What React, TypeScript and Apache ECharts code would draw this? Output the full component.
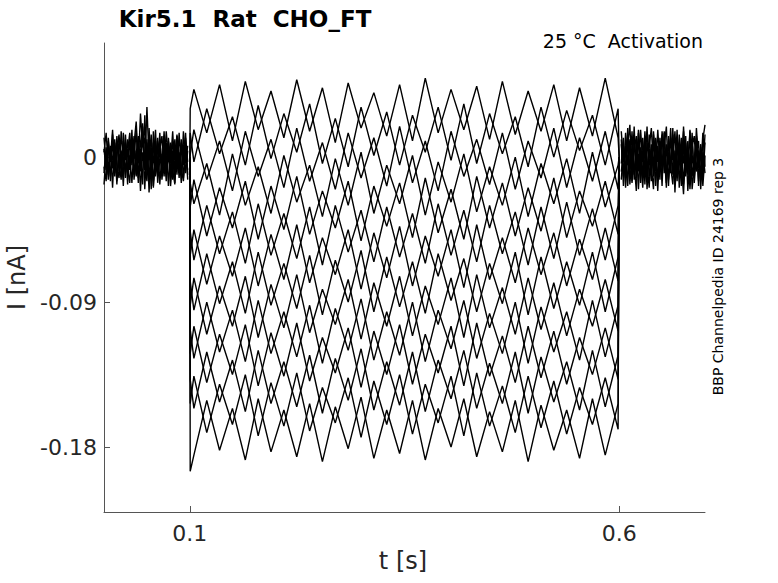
import React, { useEffect, useRef } from "react";
import * as echarts from "echarts";

// ---- data (currents in pA, times in s) ----
const preTimes = [0, 0.0025, 0.005, 0.0075, 0.01, 0.0125, 0.015, 0.0175, 0.02, 0.0225, 0.025, 0.0275, 0.03, 0.0325, 0.035, 0.0375, 0.04, 0.0425, 0.045, 0.0475, 0.05, 0.0525, 0.055, 0.0575, 0.06, 0.0625, 0.065, 0.0675, 0.07, 0.0725, 0.075, 0.0775, 0.08, 0.0825, 0.085, 0.0875, 0.09, 0.0925, 0.095, 0.0975];
const postTimes = [0.6025, 0.605, 0.6075, 0.61, 0.6125, 0.615, 0.6175, 0.62, 0.6225, 0.625, 0.6275, 0.63, 0.6325, 0.635, 0.6375, 0.64, 0.6425, 0.645, 0.6475, 0.65, 0.6525, 0.655, 0.6575, 0.66, 0.6625, 0.665, 0.6675, 0.67, 0.6725, 0.675, 0.6775, 0.68, 0.6825, 0.685, 0.6875, 0.69, 0.6925, 0.695, 0.6975, 0.7];

const preNoise1 = [5, -8, 12, -3, 9, -12, 4, 14, -6, 10, -9, 3, 15, -5, 8, 22, -4, 27, 6, 12, -10, 18, -7, 9, -12, 5, 11, -8, 13, -4, 7, -11, 10, -2, 14, -9, 6, -5, 12, -3];
const preNoise2 = [-10, 6, -14, 3, -7, 11, -15, 2, -9, 7, -13, 5, -6, 12, -11, 4, -16, 9, 19, -8, 31, -2, 14, -18, 3, -9, 8, -14, 1, -7, 10, -12, 4, -16, 8, -6, 11, -13, 2, -8];
const preNoise3 = [12, -4, 8, -15, 14, -2, 10, -9, 16, -6, 9, -17, 11, -3, 13, -11, 7, -5, 16, -20, 9, -14, 6, -19, 10, -6, 15, -10, 6, -15, 12, -4, 16, -9, 5, -13, 9, -1, 15, -11];
const preNoise4 = [-17, 2, -11, 7, -19, 9, -5, -13, 4, -18, 8, -10, 1, -16, 6, -12, 10, -21, 3, -8, 11, -22, 4, -15, -3, 12, -17, 2, -12, 9, -18, 5, -14, 11, -7, 3, -16, 8, -10, 4];
const preNoise5 = [3, 15, -6, -1, 17, -10, 13, -4, -14, 15, -2, 11, -8, 17, -14, 2, 13, -9, 21, -3, -15, 8, -20, 16, -5, -11, 4, 13, -6, 16, -1, 9, -8, -17, 13, 1, -11, 16, -4, 7];
const preNoise6 = [-6, -15, 10, -12, 0, 6, -17, 12, -3, -11, 14, -7, -16, 9, -1, 17, -13, 5, -17, 26, -6, 12, -11, -3, 17, -16, -1, -5, 16, -12, 3, -18, -2, 6, -11, 15, -7, -15, 7, -14];

const postNoise1 = [8, -12, 15, -5, 10, -16, 4, 13, -9, 17, -3, 9, -14, 6, 18, -7, 11, -15, 3, 14, -10, 8, -18, 12, -2, 16, -11, 5, -13, 19, -6, 10, -16, 7, 13, -9, 4, -14, 11, 20];
const postNoise2 = [-14, 5, -9, 18, -17, 2, -11, 9, -20, 6, -13, 16, -4, -19, 8, -12, 1, -21, 10, -6, 15, -16, 3, -9, 14, -22, 7, -3, 12, -17, 2, -11, 16, -20, -5, 9, -15, 6, -8, 14];
const postNoise3 = [16, -3, 7, -18, 11, -8, 19, -13, 2, -6, 12, -17, 9, -1, -15, 14, -9, 17, -4, -11, 6, 19, -14, -1, 9, -8, 17, -19, 8, -4, 13, -21, 1, 11, -13, 18, -2, -10, 15, -6];
const postNoise4 = [-4, 12, -19, 1, -7, 16, -14, -2, 11, -16, 4, -8, 19, -12, -3, 10, -18, 7, -14, 16, -1, -12, 11, -6, -17, 4, -10, 14, -5, -23, 9, -7, 17, -12, -1, 12, -18, 5, -14, 9];
const postNoise5 = [11, -18, 3, 14, -10, 7, -4, -21, 15, -9, 1, 13, -20, 5, -7, 16, -2, -13, 12, -8, 4, -19, 13, -10, 18, -14, 6, -1, -18, 10, -12, 6, -7, 15, -16, 2, 10, -20, 3, -10];
const postNoise6 = [-9, 2, -13, 8, 20, -15, 10, -6, 17, -1, -19, 7, -11, 14, -6, -20, 12, -3, 9, -18, 16, -7, -4, 18, -11, 0, -15, 9, -3, 16, -10, 4, -20, 1, -8, 13, -7, 8, -18, 1];

// times of the peaks / troughs during the step (0.1 .. 0.6 s)
const stepTimes = [0.1047, 0.1197, 0.1346, 0.1496, 0.1646, 0.1796, 0.1945, 0.2095, 0.2245, 0.2395, 0.2544, 0.2694, 0.2844, 0.2994, 0.3143, 0.3293, 0.3443, 0.3593, 0.3742, 0.3892, 0.4042, 0.4191, 0.4341, 0.4491, 0.4640, 0.4790, 0.4940, 0.5090, 0.5239, 0.5389, 0.5539, 0.5689, 0.5838, 0.5988];
const stepStart = 0.1;
const onsetTime = 0.1004;
const stepEnd = 0.6;
const onsetValues = [30, 15, 0, -16, -31, -46, -61, -77, -92, -107, -122, -138, -153, -195];

const trace1 = [42, 15, 45, 10, 47, 17, 41, 12, 48, 16, 43, 9, 46, 18, 40, 13, 45, 10, 49, 15, 42, 17, 44, 11, 47, 14, 41, 16, 45, 10, 43, 13, 49, 12];
const trace2 = [-3, 30, 2, 25, -5, 32, -1, 27, 3, 33, -4, 24, -6, 31, 1, 28, -5, 26, 3, 31, -2, 33, -4, 27, 2, 25, -6, 31, 0, 29, 4, 26, -5, 30];
const trace3 = [17, -14, 10, -21, 16, -12, 11, -19, 18, -15, 9, -20, 15, -13, 12, -18, 19, -16, 10, -21, 16, -12, 11, -17, 15, -20, 10, -13, 18, -19, 12, -15, 16, -20];
const trace4 = [-29, -4, -36, 2, -30, -6, -35, 1, -28, -5, -37, -1, -30, 3, -35, -5, -29, 1, -36, -3, -28, 2, -34, -6, -30, 0, -37, -4, -29, -1, -35, 3, -31, -5];
const trace5 = [-14, -49, -19, -44, -15, -51, -18, -45, -12, -48, -21, -44, -15, -52, -18, -43, -16, -50, -13, -47, -20, -51, -12, -44, -16, -49, -19, -46, -13, -50, -21, -43, -15, -48];
const trace6 = [-64, -30, -60, -34, -66, -29, -61, -35, -63, -31, -67, -30, -59, -33, -65, -31, -62, -35, -66, -29, -61, -33, -65, -30, -60, -34, -67, -31, -63, -28, -61, -32, -64, -30];
const trace7 = [-45, -79, -49, -74, -44, -80, -48, -76, -42, -78, -50, -73, -45, -82, -47, -75, -43, -80, -49, -74, -45, -81, -42, -76, -50, -78, -44, -73, -47, -80, -51, -76, -44, -77];
const trace8 = [-95, -60, -91, -65, -97, -59, -92, -66, -94, -61, -98, -64, -90, -58, -96, -62, -93, -65, -97, -60, -89, -63, -96, -66, -91, -59, -98, -62, -94, -65, -92, -59, -96, -62];
const trace9 = [-75, -110, -80, -105, -74, -112, -79, -106, -73, -109, -82, -104, -76, -113, -78, -105, -74, -111, -80, -104, -75, -112, -73, -106, -81, -110, -75, -107, -78, -111, -82, -105, -76, -108];
const trace10 = [-125, -90, -121, -95, -127, -89, -122, -96, -124, -92, -128, -94, -120, -88, -126, -96, -123, -90, -127, -95, -119, -89, -125, -97, -122, -90, -128, -93, -121, -96, -126, -89, -124, -92];
const trace11 = [-105, -140, -110, -135, -104, -142, -109, -136, -103, -139, -112, -134, -106, -143, -108, -135, -104, -141, -110, -134, -105, -142, -103, -136, -111, -140, -105, -137, -108, -141, -112, -135, -106, -138];
const trace12 = [-156, -121, -152, -126, -158, -120, -153, -127, -155, -123, -159, -125, -151, -119, -157, -127, -154, -121, -158, -126, -150, -120, -156, -128, -153, -121, -159, -124, -152, -127, -157, -120, -155, -123];
const trace13 = [-136, -171, -141, -166, -135, -173, -140, -167, -134, -170, -143, -165, -137, -174, -139, -166, -135, -172, -141, -165, -136, -173, -134, -167, -142, -171, -136, -168, -139, -172, -143, -166, -137, -169];
const trace14 = [-185, -151, -182, -156, -188, -150, -183, -157, -186, -153, -189, -155, -181, -149, -187, -157, -184, -151, -188, -156, -180, -150, -186, -158, -183, -151, -189, -154, -182, -157, -187, -150, -185, -153];

const xTickValues = [0.1, 0.6];
const xTickLabels = ["0.1", "0.6"];
const yTickValues = [0, -0.09, -0.18];
const yTickLabels = ["0", "-0.09", "-0.18"];

const titleText = "Kir5.1  Rat  CHO_FT";
const conditionText = "25 °C  Activation";
const sideText = "BBP Channelpedia ID 24169 rep 3";
const xName = "t [s]";
const yName = "I [nA]";

const preNoise = [preNoise1, preNoise2, preNoise3, preNoise4, preNoise5, preNoise6];
const postNoise = [postNoise1, postNoise2, postNoise3, postNoise4, postNoise5, postNoise6];
const traces = [trace1, trace2, trace3, trace4, trace5, trace6, trace7, trace8, trace9, trace10, trace11, trace12, trace13, trace14];

const pA = (v: number) => v / 1000; // pA -> nA

export default function App() {
  const ref = useRef<HTMLDivElement>(null);
  useEffect(() => {
    if (!ref.current) return;
    const chart = echarts.init(ref.current, undefined, { renderer: "svg" });
    const FONT = "DejaVu Sans";
    const noiseStyle = { color: "#000000", width: 1.4 };
    const traceStyle = { color: "#000000", width: 1.4 };
    const series: any[] = [];
    preNoise.forEach((arr) => {
      series.push({
        type: "line",
        data: preTimes.map((t, i) => [t, pA(arr[i])]),
        showSymbol: false,
        lineStyle: noiseStyle,
        silent: true,
      });
    });
    postNoise.forEach((arr) => {
      series.push({
        type: "line",
        data: postTimes.map((t, i) => [t, pA(arr[i])]),
        showSymbol: false,
        lineStyle: noiseStyle,
        silent: true,
      });
    });
    traces.forEach((arr, k) => {
      const data: number[][] = [[stepStart, 0], [onsetTime, pA(onsetValues[k])]];
      stepTimes.forEach((t, i) => data.push([t, pA(arr[i])]));
      data.push([stepEnd, 0]);
      series.push({
        type: "line",
        data,
        showSymbol: false,
        lineStyle: traceStyle,
        silent: true,
      });
    });

    chart.setOption({
      animation: false,
      backgroundColor: "#ffffff",
      grid: { left: 104, right: 73, top: 43, bottom: 71, containLabel: false },
      xAxis: {
        type: "value",
        min: 0,
        max: 0.7,
        axisLine: { show: true, onZero: false, lineStyle: { color: "#555555", width: 1 } },
        axisTick: { show: true, inside: true, length: 6, customValues: xTickValues, lineStyle: { color: "#555555" } },
        axisLabel: {
          show: true,
          customValues: xTickValues,
          margin: 10,
          color: "#262626",
          fontSize: 22,
          fontFamily: FONT,
          formatter: (v: number) => {
            const i = xTickValues.findIndex((x) => Math.abs(x - v) < 1e-9);
            return i >= 0 ? xTickLabels[i] : "";
          },
        },
        splitLine: { show: false },
      },
      yAxis: {
        type: "value",
        min: -0.2203,
        max: 0.0708,
        axisLine: { show: true, onZero: false, lineStyle: { color: "#555555", width: 1 } },
        axisTick: { show: true, inside: true, length: 6, customValues: yTickValues, lineStyle: { color: "#555555" } },
        axisLabel: {
          show: true,
          customValues: yTickValues,
          margin: 7,
          color: "#262626",
          fontSize: 22,
          fontFamily: FONT,
          formatter: (v: number) => {
            const i = yTickValues.findIndex((y) => Math.abs(y - v) < 1e-9);
            return i >= 0 ? yTickLabels[i] : "";
          },
        },
        splitLine: { show: false },
      },
      graphic: [
        {
          type: "text",
          x: 245,
          y: 19,
          style: { text: titleText, fill: "#000000", font: `bold 23px "${FONT}"`, align: "center", verticalAlign: "middle" },
        },
        {
          type: "text",
          x: 703,
          y: 41,
          style: { text: conditionText, fill: "#000000", font: `19px "${FONT}"`, align: "right", verticalAlign: "middle" },
        },
        {
          type: "text",
          x: 717.5,
          y: 276.5,
          rotation: Math.PI / 2,
          style: { text: sideText, fill: "#000000", font: `14px "${FONT}"`, align: "center", verticalAlign: "middle" },
        },
        {
          type: "text",
          x: 17,
          y: 277.5,
          rotation: Math.PI / 2,
          style: { text: yName, fill: "#262626", font: `24px "${FONT}"`, align: "center", verticalAlign: "middle" },
        },
        {
          type: "text",
          x: 403,
          y: 561,
          style: { text: xName, fill: "#262626", font: `24px "${FONT}"`, align: "center", verticalAlign: "middle" },
        },
      ],
      series,
    });
    return () => chart.dispose();
  }, []);
  return <div ref={ref} style={{ width: 778, height: 583, position: "absolute", left: 0, top: 0 }} />;
}
